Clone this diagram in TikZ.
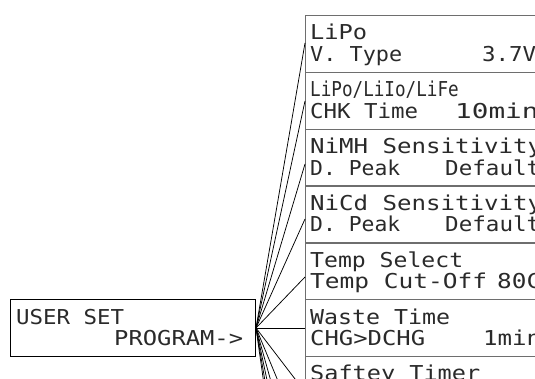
\documentclass[tikz,border=0pt]{standalone}
\usepackage{fontspec}
\setmainfont{DejaVu Sans Mono}
\usepackage{graphicx}
\definecolor{lcdink}{HTML}{2A2A2A}
\definecolor{panelgray}{HTML}{6E6E6E}
% horizontal stretch only: factor = target width / natural width (12.341pt per character)
\newcommand\lcdx[2]{\scalebox{#1}[1]{#2}}
\newcommand\lcdfont{\fontsize{20.5}{20.5}\selectfont}
\begin{document}
\begin{tikzpicture}[x=1pt,y=-1pt,
  lcd/.style={inner sep=0pt, anchor=base west, font=\lcdfont, text=lcdink},
  panel/.style={draw=panelgray, line width=1.4pt, minimum width=260pt, minimum height=56.8pt, anchor=north west, inner sep=0pt},
  userbox/.style={draw=black, line width=1pt, minimum width=245pt, minimum height=57pt, anchor=north west, inner sep=0pt},
  link/.style={draw=black, line width=0.75pt}]
\useasboundingbox (0,0) rectangle (535,379);
\clip (0,0) rectangle (535,379);

% left box
\node[userbox] (user) at (10,299) {};
\node[lcd] (u1) at (16,324) {\lcdx{1.094}{USER SET}};
\node[lcd] (u2) at (114,345.5) {\lcdx{1.161}{PROGRAM->}};

% right panels
\node[panel] (b1) at (305,15) {};
\node[panel] (b2) at (305,71.8) {};
\node[panel] (b3) at (305,128.6) {};
\node[panel] (b4) at (305,185.4) {};
\node[panel] (b5) at (305,242.2) {};
\node[panel] (b6) at (305,299) {};
\node[panel] (b7) at (305,355.8) {};

% texts
\node[lcd] (t1a) at (310,40) {\lcdx{1.155}{LiPo}};
\node[lcd] (t1b) at (310,61.5) {\lcdx{1.065}{V. Type}};
\node[lcd] (t1c) at (482,61.5) {\lcdx{1.094}{3.7V}};

\node[lcd] (t2a) at (310,96.8) {\lcdx{0.86}{LiPo/LiIo/LiFe}};
\node[lcd] (t2b) at (310,118.3) {\lcdx{1.094}{CHK Time}};
\node[lcd] (t2c) at (455,118.3) {\lcdx{1.35}{10min}};

\node[lcd] (t3a) at (310,153.6) {\lcdx{1.175}{NiMH Sensitivity}};
\node[lcd] (t3b) at (310,175.1) {\lcdx{1.042}{D. Peak}};
\node[lcd] (t3c) at (445,175.1) {\lcdx{1.10}{Default}};

\node[lcd] (t4a) at (310,211) {\lcdx{1.175}{NiCd Sensitivity}};
\node[lcd] (t4b) at (310,231.9) {\lcdx{1.042}{D. Peak}};
\node[lcd] (t4c) at (445,231.9) {\lcdx{1.10}{Default}};

\node[lcd] (t5a) at (310,267.2) {\lcdx{1.127}{Temp Select}};
\node[lcd] (t5b) at (310,288.7) {\lcdx{1.195}{Temp Cut-Off}};
\node[lcd] (t5c) at (497,288.7) {\lcdx{1.188}{80C}};

\node[lcd] (t6a) at (310,324) {\lcdx{1.134}{Waste Time}};
\node[lcd] (t6b) at (310,345.5) {\lcdx{1.165}{CHG>DCHG}};
\node[lcd] (t6c) at (483,345.5) {\lcdx{1.175}{1min}};

\node[lcd] (t7a) at (310,380.8) {\lcdx{1.148}{Saftey Timer}};

% connector end points on the panels' left edges
\coordinate (h1) at (305,43);
\coordinate (h2) at (305,101);
\coordinate (h3) at (305,164);
\coordinate (h4) at (305,219);
\coordinate (h5) at (305,277);
\coordinate (h7) at (305,392);
\coordinate (h8) at (305,446);
\coordinate (h9) at (305,503);
\coordinate (h10) at (305,560);
\coordinate (h11) at (305,617);
\coordinate (h12) at (305,674);

\draw[link] (user.east) -- (h1);
\draw[link] (user.east) -- (h2);
\draw[link] (user.east) -- (h3);
\draw[link] (user.east) -- (h4);
\draw[link] (user.east) -- (h5);
\draw[link] (user.east) -- (user.east -| b6.west);
\draw[link] (user.east) -- (h7);
\draw[link] (user.east) -- (h8);
\draw[link] (user.east) -- (h9);
\draw[link] (user.east) -- (h10);
\draw[link] (user.east) -- (h11);
\draw[link] (user.east) -- (h12);
\end{tikzpicture}
\end{document}
